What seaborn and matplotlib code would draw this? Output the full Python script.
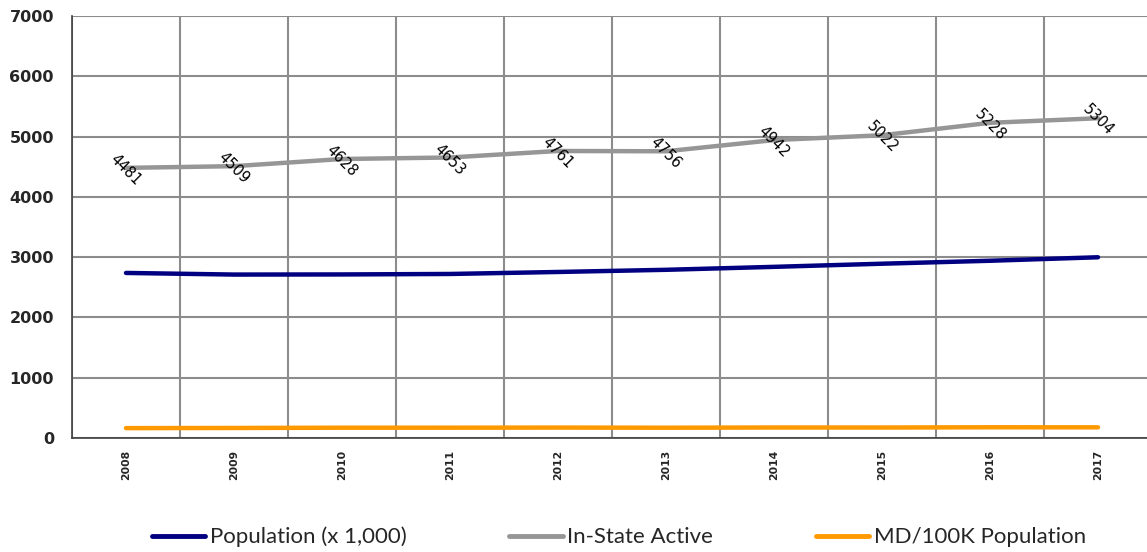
import pandas as pd
import seaborn as sns
import matplotlib.pyplot as plt

years = ['2008', '2009', '2010', '2011', '2012', '2013', '2014', '2015', '2016', '2017']
population = [2738, 2711, 2713, 2721, 2754, 2790, 2839, 2891, 2940, 2998]
in_state_active = [4481, 4509, 4628, 4653, 4761, 4756, 4942, 5022, 5228, 5304]
md_per_100k = [163.7, 166.3, 170.6, 171.0, 172.9, 170.5, 174.1, 173.7, 177.8, 176.9]
y_ticks = [0, 1000, 2000, 3000, 4000, 5000, 6000, 7000]

series_names = ['Population (x 1,000)', 'In-State Active', 'MD/100K Population']
colors = ['#000080', '#969696', '#FF9900']

df = pd.DataFrame({
    'year': years * 3,
    'value': population + in_state_active + md_per_100k,
    'series': [s for s in series_names for _ in years],
})

sns.set_style('white')
plt.rcParams['font.family'] = ['DejaVu Sans']

fig = plt.figure(figsize=(11.47, 5.52), dpi=100)
ax = fig.add_axes([72 / 1147, 1 - 438 / 552, 1080 / 1147, 422 / 552])

sns.lineplot(data=df, x='year', y='value', hue='series', hue_order=series_names,
             palette=colors, linewidth=3.2, legend=False, ax=ax, sort=False,
             solid_capstyle='round')

for i, v in enumerate(in_state_active):
    ax.annotate(str(v), (i, v), xytext=(0, -1.5), textcoords='offset points',
                rotation=-45, ha='center', va='center', fontsize=10.5,
                color='black', family='DejaVu Sans')

ax.set_xlim(-0.5, len(years) - 0.5)
ax.set_ylim(0, 7000)
ax.set_yticks(y_ticks, labels=[str(t) for t in y_ticks], fontsize=11.5,
              fontweight='bold', family='DejaVu Sans')
ax.set_xticks(range(len(years)), labels=years, rotation=90, fontsize=7.8,
              fontweight='bold', family='DejaVu Sans')
ax.set_xticks([i - 0.5 for i in range(len(years) + 1)], minor=True)
ax.tick_params(axis='x', which='major', length=0, pad=8.5)
ax.tick_params(axis='x', which='minor', length=4, width=1, color='#404040', direction='out')
ax.tick_params(axis='y', length=4, width=1, color='#404040', direction='out', pad=9)
ax.grid(False)
ax.grid(True, axis='y', which='major', color='#8c8c8c', linewidth=1.5)
ax.grid(True, axis='x', which='minor', color='#8c8c8c', linewidth=1.5)
ax.set_axisbelow(True)
ax.set_xlabel('')
ax.set_ylabel('')
for side in ['top', 'right']:
    ax.spines[side].set_visible(False)
for side in ['left', 'bottom']:
    ax.spines[side].set_color('#404040')
    ax.spines[side].set_linewidth(1.2)

handles = [plt.Line2D([], [], color=c, linewidth=3.5, solid_capstyle='round') for c in colors]
fig.legend(handles, series_names, loc='center', bbox_to_anchor=(619 / 1147, 1 - 537 / 552),
           ncol=3, frameon=False, handlelength=2.4, handletextpad=0.22, columnspacing=4.6,
           prop={'family': 'Lato', 'size': 16})

fig.savefig('out.png', dpi=100)
